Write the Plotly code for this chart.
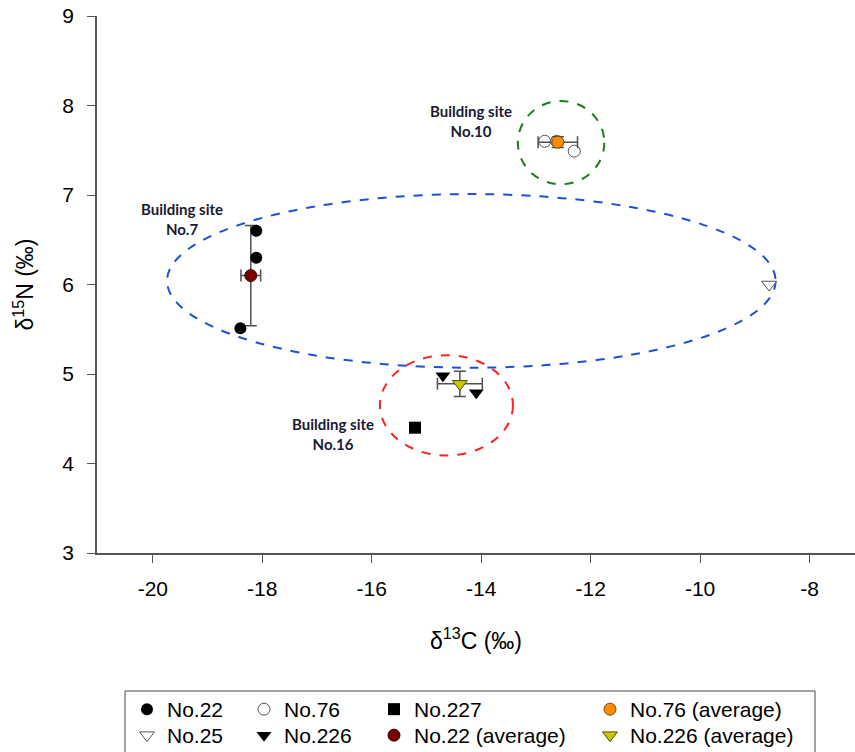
import plotly.graph_objects as go

# ---- data ----
no22_x = [-18.11, -18.11, -18.40]
no22_y = [6.60, 6.30, 5.51]
no22_avg_x = [-18.21]
no22_avg_y = [6.10]
no22_avg_ex = [0.18]
no22_avg_ey = [0.56]

no76_x = [-12.84, -12.62, -12.30]
no76_y = [7.60, 7.60, 7.49]
no76_avg_x = [-12.60]
no76_avg_y = [7.59]
no76_avg_ex = [0.36]
no76_avg_ey = [0.06]

no25_x = [-8.74]
no25_y = [6.00]

no227_x = [-15.21]
no227_y = [4.40]

no226_x = [-14.70, -14.09]
no226_y = [4.98, 4.79]
no226_avg_x = [-14.39]
no226_avg_y = [4.89]
no226_avg_ex = [0.41]
no226_avg_ey = [0.14]

# ellipses: (x0, x1, y0, y1, colour)
ellipses = [
    (-19.74, -8.62, 5.07, 7.01, "#1f4fd8"),
    (-13.33, -11.75, 7.12, 8.05, "#1e7b1e"),
    (-15.85, -13.42, 4.09, 5.21, "#ff2020"),
]

labels = [
    (-14.18, 7.83, "Building site<br>No.10"),
    (-19.47, 6.73, "Building site<br>No.7"),
    (-16.70, 4.33, "Building site<br>No.16"),
]

x_ticks = [-20, -18, -16, -14, -12, -10, -8]
x_ticktext = ["-20", "-18", "-16", "-14", "-12", "-10", "-8"]
y_ticks = [3, 4, 5, 6, 7, 8, 9]

# layout geometry (pixels)
L, R, T, B = 97, 0, 16, 199
PW, PH = 855 - L - R, 752 - T - B

def px_x(p):
    return (p - L) / PW

def px_y(p):
    return (752 - B - p) / PH

ERR = dict(color="#505050", thickness=1.5, width=6)

col_x = [127, 244, 374, 590]
row_y = [709.5, 735.5]

fig = go.Figure()

fig.add_trace(go.Scatter(
    x=no22_avg_x, y=no22_avg_y, mode="markers", name="No.22 (average)",
    marker=dict(symbol="circle", size=12, color="#7a0000", line=dict(color="#3a0000", width=1)),
    error_x=dict(type="data", array=no22_avg_ex, **ERR),
    error_y=dict(type="data", array=no22_avg_ey, **ERR),
    legend="legend7"))

fig.add_trace(go.Scatter(
    x=no22_x, y=no22_y, mode="markers", name="No.22",
    marker=dict(symbol="circle", size=12, color="black"),
    legend="legend"))

fig.add_trace(go.Scatter(
    x=no25_x, y=no25_y, mode="markers", name="No.25",
    marker=dict(symbol="triangle-down", size=13, color="white", line=dict(color="#555555", width=1)),
    legend="legend5"))

fig.add_trace(go.Scatter(
    x=no76_x, y=no76_y, mode="markers", name="No.76",
    marker=dict(symbol="circle", size=12, color="white", line=dict(color="#555555", width=1)),
    legend="legend2"))

fig.add_trace(go.Scatter(
    x=no76_avg_x, y=no76_avg_y, mode="markers", name="No.76 (average)",
    marker=dict(symbol="circle", size=12, color="#ff8c00", line=dict(color="#7a4a00", width=1)),
    error_x=dict(type="data", array=no76_avg_ex, **ERR),
    error_y=dict(type="data", array=no76_avg_ey, **ERR),
    legend="legend4"))

fig.add_trace(go.Scatter(
    x=no227_x, y=no227_y, mode="markers", name="No.227",
    marker=dict(symbol="square", size=12, color="black"),
    legend="legend3"))

fig.add_trace(go.Scatter(
    x=no226_x, y=no226_y, mode="markers", name="No.226",
    marker=dict(symbol="triangle-down", size=13, color="black"),
    legend="legend6"))

fig.add_trace(go.Scatter(
    x=no226_avg_x, y=no226_avg_y, mode="markers", name="No.226 (average)",
    marker=dict(symbol="triangle-down", size=13, color="#c8c800", line=dict(color="#505000", width=1)),
    error_x=dict(type="data", array=no226_avg_ex, **ERR),
    error_y=dict(type="data", array=no226_avg_ey, **ERR),
    legend="legend8"))

for x0, x1, y0, y1, col in ellipses:
    fig.add_shape(type="circle", xref="x", yref="y", x0=x0, x1=x1, y0=y0, y1=y1,
                  line=dict(color=col, width=2, dash="dash"), layer="below")

for x, y, t in labels:
    fig.add_annotation(x=x, y=y, xref="x", yref="y", text=t, showarrow=False,
                       font=dict(family="Lato", size=15, color="#1a1a33", weight="bold"),
                       align="center")

# legend border box
fig.add_shape(type="rect", xref="paper", yref="paper",
              x0=px_x(125), x1=px_x(815), y0=px_y(780), y1=px_y(691),
              line=dict(color="#444444", width=1), fillcolor="rgba(0,0,0,0)")

LEGFONT = dict(family="Liberation Sans", size=21, color="black")
def leg(col, row):
    return dict(x=px_x(col_x[col]), y=px_y(row_y[row]), xanchor="left", yanchor="middle",
                orientation="v", font=LEGFONT, bgcolor="rgba(0,0,0,0)",
                borderwidth=0, tracegroupgap=0, itemclick=False, itemdoubleclick=False)

fig.update_layout(
    width=855, height=752,
    margin=dict(l=L, r=R, t=T, b=B, autoexpand=False),
    paper_bgcolor="white", plot_bgcolor="white",
    font=dict(family="Liberation Sans", size=20, color="black"),
    showlegend=True,
    legend=leg(0, 0), legend2=leg(1, 0), legend3=leg(2, 0), legend4=leg(3, 0),
    legend5=leg(0, 1), legend6=leg(1, 1), legend7=leg(2, 1), legend8=leg(3, 1),
    xaxis=dict(range=[-21.02, -7.17], tickvals=x_ticks, ticktext=x_ticktext, ticks="outside", ticklen=8,
               tickcolor="#555555", showline=True, linecolor="#555555", linewidth=1.5,
               showgrid=False, zeroline=False, ticklabelstandoff=8,
               tickfont=dict(size=21, color="black"),
               title=dict(text="δ<sup>13</sup>C (‰)", font=dict(size=23, color="black"), standoff=34)),
    yaxis=dict(range=[3, 9], tickvals=y_ticks, ticks="outside", ticklen=8,
               tickcolor="#555555", showline=True, linecolor="#555555", linewidth=1.5,
               showgrid=False, zeroline=False, ticklabelstandoff=9,
               tickfont=dict(size=21, color="black"),
               title=dict(text="δ<sup>15</sup>N (‰)", font=dict(size=23, color="black"), standoff=22)),
)

fig.write_html("out.html", config={"displayModeBar": False},
               post_script="document.body.style.margin='0';document.body.style.overflow='hidden';")
